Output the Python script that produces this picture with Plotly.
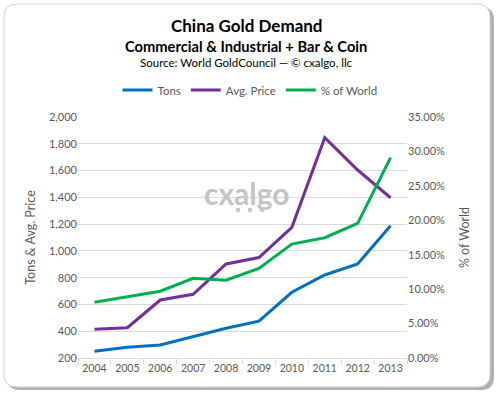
import plotly.graph_objects as go

years = ["2004", "2005", "2006", "2007", "2008", "2009", "2010", "2011", "2012", "2013"]
tons = [250, 280, 297, 360, 422, 475, 691, 820, 902, 1188]
avg_price = [414, 426, 633, 676, 902, 950, 1176, 1846, 1604, 1397]
pct_world = [0.0809, 0.089, 0.097, 0.1157, 0.113, 0.130, 0.1655, 0.1747, 0.1955, 0.291]
highlight_year = "2011"

W, H = 500, 396
L, R, T, B = 78, 407, 117, 358
font = "Lato, Open Sans, sans-serif"
grey = "#595959"

def px(x):
    return (x - L) / (R - L)

def py(y):
    return (B - y) / (B - T)

def rrect(x0, y0, x1, y1, r):
    rx = r / (R - L)
    ry = r / (B - T)
    X0, X1 = px(x0), px(x1)
    Y0, Y1 = py(y0), py(y1)
    return (f"M {X0+rx},{Y0} L {X1-rx},{Y0} Q {X1},{Y0} {X1},{Y0-ry} "
            f"L {X1},{Y1+ry} Q {X1},{Y1} {X1-rx},{Y1} L {X0+rx},{Y1} "
            f"Q {X0},{Y1} {X0},{Y1+ry} L {X0},{Y0-ry} Q {X0},{Y0} {X0+rx},{Y0} Z")

fig = go.Figure()
fig.add_trace(go.Scatter(x=years, y=tons, name="Tons", mode="lines",
                         line=dict(color="#0070c0", width=3)))
fig.add_trace(go.Scatter(x=years, y=avg_price, name="Avg. Price", mode="lines",
                         line=dict(color="#7030a0", width=3)))
fig.add_trace(go.Scatter(x=years, y=pct_world, name="% of World", mode="lines",
                         line=dict(color="#00b050", width=3), yaxis="y2"))

shapes = [
    dict(type="path", xref="paper", yref="paper", layer="below",
         path=rrect(7, 7, 494, 390, 13), fillcolor="#b0b0b0", line=dict(width=0)),
    dict(type="path", xref="paper", yref="paper", layer="below",
         path=rrect(4, 4, 490, 387, 13), fillcolor="white",
         line=dict(color="#d0d0d0", width=1)),
    dict(type="line", xref="x", yref="paper", x0=highlight_year, x1=highlight_year,
         y0=0, y1=1.02, line=dict(color="#c89600", width=2, dash="dot")),
]
# watermark logo dots
for cx in (238, 250, 262):
    shapes.append(dict(type="circle", xref="paper", yref="paper", layer="above",
                       x0=px(cx - 2.3), x1=px(cx + 2.3), y0=py(210 + 2.3), y1=py(210 - 2.3),
                       fillcolor="#c8c8c8", line=dict(width=0)))

def ann(text, x, y, size, color="black"):
    return dict(text=text, x=px(x), y=py(y), xref="paper", yref="paper",
                xanchor="center", yanchor="middle", showarrow=False,
                font=dict(family=font, size=size, color=color))

annotations = [
    ann("<b>China Gold Demand</b>", 247, 25, 17),
    ann("<b>Commercial & Industrial + Bar & Coin</b>", 246, 46, 14.7),
    ann("Source: World GoldCouncil — © cxalgo, llc", 246, 63, 11.5),
    ann("<b>cxalgo</b>", 247, 193, 30, "#c4c4c4"),
]

fig.update_layout(
    width=W, height=H,
    margin=dict(l=L, r=W - R, t=T, b=H - B, autoexpand=False),
    paper_bgcolor="white", plot_bgcolor="rgba(0,0,0,0)",
    font=dict(family=font, size=11, color=grey),
    showlegend=True,
    legend=dict(orientation="h", x=px(250), y=py(90), xanchor="center", yanchor="middle",
                font=dict(family=font, size=11.5, color=grey), itemwidth=30,
                bgcolor="rgba(0,0,0,0)", tracegroupgap=0),
    xaxis=dict(type="category", range=[-0.5, 9.5], showgrid=False, automargin=False,
               showline=True, linecolor="#d9d9d9", ticks="outside", tickson="boundaries",
               ticklen=5, tickcolor="#d9d9d9", tickangle=0,
               tickfont=dict(size=10.5, color=grey)),
    yaxis=dict(range=[200, 2000], dtick=200, tickformat=",", showgrid=True, automargin=False,
               gridcolor="#d9d9d9", zeroline=False, showline=False,
               title=dict(text="Tons & Avg. Price", font=dict(size=12.5, color=grey), standoff=10),
               tickfont=dict(size=11, color=grey)),
    yaxis2=dict(range=[0, 0.35], dtick=0.05, tickformat=".2%", overlaying="y", side="right",
                showgrid=False, zeroline=False, showline=False, automargin=False,
                title=dict(text="% of World", font=dict(size=12.5, color=grey), standoff=16),
                tickfont=dict(size=11, color=grey)),
    shapes=shapes, annotations=annotations,
)

fig.write_html("out.html", config={"displayModeBar": False},
               post_script="document.body.style.margin='0';document.body.style.overflow='hidden';")
